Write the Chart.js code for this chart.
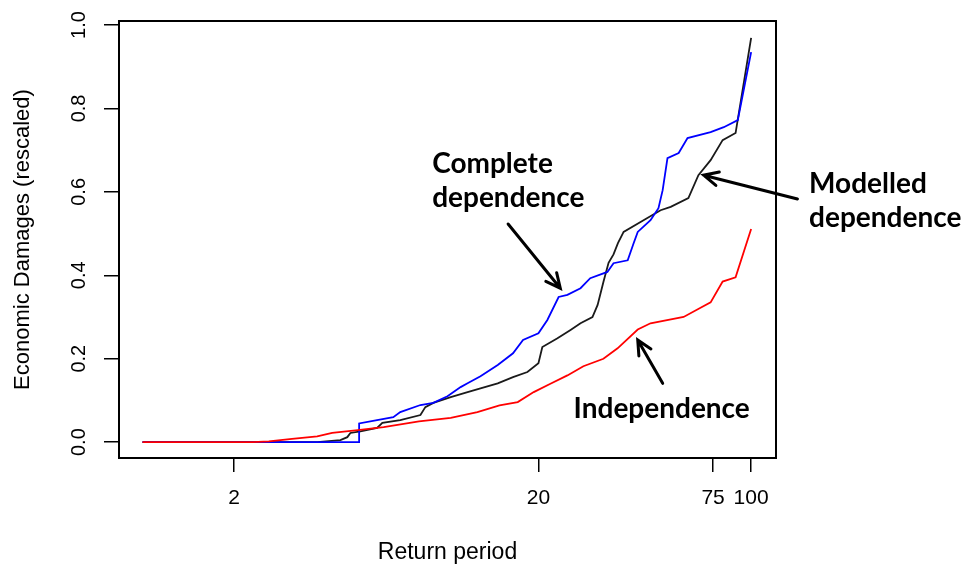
<!DOCTYPE html>
<html>
<head>
<meta charset="utf-8">
<script src="https://cdn.jsdelivr.net/npm/chart.js@4/dist/chart.umd.min.js"></script>
<style>
  html, body { margin: 0; padding: 0; background: #fff; }
  canvas { display: block; }
</style>
</head>
<body>
<canvas id="chart" width="967" height="567"></canvas>
<script>
// return periods (years) and rescaled damages
const indepT = [1, 2.3, 2.6, 3.1, 3.75, 4.2, 5.1, 6.2, 8.1, 10.3, 12.6, 14.9, 17.1, 19.3, 21.9, 24.9, 28.1, 32.7, 36.4, 42.4, 46.7, 60, 68.2, 73.6, 80.6, 88.9, 100];
const indepV = [0, 0, 0.002, 0.008, 0.014, 0.022, 0.029, 0.036, 0.05, 0.058, 0.072, 0.088, 0.096, 0.12, 0.14, 0.16, 0.182, 0.2, 0.225, 0.27, 0.285, 0.3, 0.322, 0.335, 0.385, 0.395, 0.511];

const completeT = [1, 5.15, 5.15, 5.9, 6.67, 7.03, 8.19, 9.03, 10.05, 11.1, 11.7, 12.9, 14.7, 16.5, 17.8, 20, 21.4, 23.3, 24.9, 27.5, 29.6, 33.7, 35.3, 39.3, 41.1, 42.4, 46.7, 49.6, 51.2, 53.1, 57.8, 61.8, 73.6, 81.3, 90.4, 100];
const completeV = [0, 0, 0.045, 0.053, 0.06, 0.072, 0.089, 0.094, 0.11, 0.132, 0.141, 0.158, 0.185, 0.213, 0.245, 0.261, 0.293, 0.348, 0.353, 0.369, 0.393, 0.408, 0.429, 0.436, 0.477, 0.504, 0.532, 0.561, 0.604, 0.681, 0.693, 0.729, 0.743, 0.755, 0.772, 0.935];

const modelT = [1, 3.75, 4.47, 4.71, 4.82, 5.2, 5.9, 6.14, 7.03, 8.19, 8.5, 9.03, 10.3, 11.7, 12.9, 14.7, 16.5, 18.4, 20, 20.6, 23.1, 25.5, 27.5, 30.1, 31.3, 32.7, 34.0, 35.3, 36.5, 38.1, 44.3, 50.4, 54.4, 62.2, 67.1, 73.6, 80.6, 88.9, 100];
const modelV = [0, 0, 0.005, 0.012, 0.022, 0.026, 0.034, 0.046, 0.053, 0.065, 0.084, 0.094, 0.108, 0.12, 0.129, 0.141, 0.156, 0.168, 0.189, 0.228, 0.249, 0.269, 0.285, 0.3, 0.329, 0.384, 0.43, 0.45, 0.477, 0.504, 0.532, 0.556, 0.564, 0.585, 0.64, 0.676, 0.724, 0.741, 0.969];

const xTicks = [2, 20, 75, 100];
const yTicks = [0, 0.2, 0.4, 0.6, 0.8, 1.0];
const yTickLabels = ["0.0", "0.2", "0.4", "0.6", "0.8", "1.0"];

// annotations in data units: [T, value]
const labels = [
  { lines: ["Complete", "dependence"], at: [8.95, 0.667], step: 0.081 },
  { lines: ["Modelled", "dependence"], at: [155, 0.619], step: 0.081 },
  { lines: ["Independence"], at: [26.1, 0.08], step: 0 }
];
const arrows = [
  { from: [15.9, 0.523], to: [23.6, 0.369] },
  { from: [142, 0.583], to: [69.8, 0.640] },
  { from: [51.2, 0.141], to: [42.4, 0.245] }
];

const toXY = (ts, vs) => ts.map((t, i) => ({ x: t, y: vs[i] }));

const axisFont = "'Liberation Sans', Arial, sans-serif";

const rPlot = {
  id: "rPlot",
  afterDatasetsDraw(chart) {
    const { ctx, chartArea: a, scales } = chart;
    ctx.save();
    ctx.strokeStyle = "#000";
    ctx.lineWidth = 2;
    ctx.strokeRect(a.left, a.top, a.right - a.left, a.bottom - a.top);

    // rotated y tick labels, like R's default
    ctx.fillStyle = "#000";
    ctx.font = "20px " + axisFont;
    ctx.textAlign = "center";
    ctx.textBaseline = "middle";
    yTicks.forEach((v, i) => {
      const y = scales.y.getPixelForValue(v);
      ctx.save();
      ctx.translate(79, y);
      ctx.rotate(-Math.PI / 2);
      ctx.fillText(yTickLabels[i], 0, 0);
      ctx.restore();
    });

    // text annotations
    ctx.font = "bold 28px Lato, 'Noto Sans', sans-serif";
    ctx.textAlign = "left";
    labels.forEach(l => {
      l.lines.forEach((s, i) => {
        const x = scales.x.getPixelForValue(l.at[0]);
        const y = scales.y.getPixelForValue(l.at[1] - i * l.step);
        ctx.fillText(s, x, y);
      });
    });

    // arrows
    ctx.lineWidth = 3;
    ctx.lineCap = "round";
    arrows.forEach(ar => {
      const x1 = scales.x.getPixelForValue(ar.from[0]);
      const y1 = scales.y.getPixelForValue(ar.from[1]);
      const x2 = scales.x.getPixelForValue(ar.to[0]);
      const y2 = scales.y.getPixelForValue(ar.to[1]);
      const ang = Math.atan2(y2 - y1, x2 - x1);
      const h = 16;
      ctx.beginPath();
      ctx.moveTo(x1, y1);
      ctx.lineTo(x2, y2);
      ctx.moveTo(x2 - h * Math.cos(ang - 0.45), y2 - h * Math.sin(ang - 0.45));
      ctx.lineTo(x2, y2);
      ctx.lineTo(x2 - h * Math.cos(ang + 0.45), y2 - h * Math.sin(ang + 0.45));
      ctx.stroke();
    });
    ctx.restore();
  }
};

new Chart(document.getElementById("chart"), {
  type: "scatter",
  data: {
    datasets: [
      { label: "Independence", data: toXY(indepT, indepV), borderColor: "#ff0000" },
      { label: "Complete dependence", data: toXY(completeT, completeV), borderColor: "#0000ff" },
      { label: "Modelled dependence", data: toXY(modelT, modelV), borderColor: "#1a1a1a" }
    ].map(d => ({ ...d, showLine: true, pointRadius: 0, borderWidth: 1.8, tension: 0, fill: false }))
  },
  options: {
    responsive: false,
    animation: false,
    devicePixelRatio: 1,
    layout: { padding: { left: 0, top: 21, right: 191, bottom: 0 } },
    plugins: {
      legend: { display: false },
      tooltip: { enabled: false }
    },
    scales: {
      x: {
        type: "logarithmic",
        position: "bottom",
        min: 0.837,
        max: 120.7,
        afterBuildTicks: s => { s.ticks = xTicks.map(v => ({ value: v })); },
        afterFit: s => { s.height = 109; },
        grid: { drawOnChartArea: false, drawTicks: true, tickLength: 14, color: "#000", lineWidth: 1.5 },
        border: { display: false },
        ticks: {
          autoSkip: false,
          maxRotation: 0,
          padding: 14,
          color: "#000",
          font: { family: axisFont, size: 21 },
          callback: v => String(v)
        },
        title: {
          display: true,
          text: "Return period",
          color: "#000",
          font: { family: axisFont, size: 23 },
          padding: { top: 0, bottom: 1 }
        }
      },
      y: {
        type: "linear",
        min: -0.038,
        max: 1.0096,
        afterBuildTicks: s => { s.ticks = yTicks.map(v => ({ value: v })); },
        afterFit: s => { s.width = 119; },
        grid: { drawOnChartArea: false, drawTicks: true, tickLength: 15, color: "#000", lineWidth: 1.5 },
        border: { display: false },
        ticks: { display: false },
        title: {
          display: true,
          text: "Economic Damages (rescaled)",
          color: "#000",
          font: { family: axisFont, size: 22 },
          padding: { top: 10, bottom: 0 }
        }
      }
    }
  },
  plugins: [rPlot]
});
</script>
</body>
</html>
